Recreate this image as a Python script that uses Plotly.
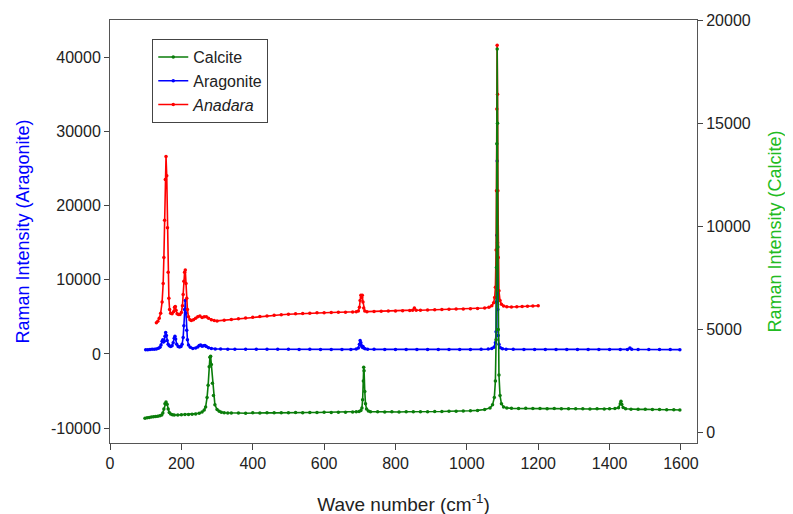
import plotly.graph_objects as go

# ---------------- data ----------------
calcite_x = [98, 104, 110, 116, 122, 128, 134, 140, 145, 148, 151, 154, 157, 160, 163, 166, 170, 175, 180, 190,
             200, 210, 220, 230, 240, 250, 258, 264, 268, 272, 275, 278, 280, 282, 284, 287, 290, 294, 300, 306,
             312, 320, 330, 340, 360, 380, 400, 420, 440, 460, 480, 500, 520, 540, 560, 580, 600, 620, 640, 660,
             680, 690, 698, 703, 706, 708, 710, 711, 712, 714, 716, 719, 724, 730, 750, 770, 790, 810, 830, 850,
             870, 890, 910, 930, 950, 970, 990, 1010, 1030, 1050, 1065, 1072, 1077, 1080, 1082, 1083, 1084, 1085,
             1086, 1087, 1088, 1090, 1093, 1097, 1103, 1112, 1125, 1145, 1165, 1185, 1205, 1225, 1245, 1265, 1285,
             1305, 1325, 1345, 1365, 1385, 1400, 1415, 1425, 1430, 1432, 1434, 1438, 1445, 1460, 1480, 1500, 1520,
             1540, 1560, 1580, 1597]
calcite_y = [700, 720, 740, 760, 770, 790, 800, 820, 860, 950, 1150, 1400, 1490, 1380, 1150, 980, 900, 870, 860, 860,
             870, 880, 880, 890, 910, 940, 1000, 1100, 1250, 1700, 2300, 3200, 3650, 3700, 3300, 2400, 1800, 1350, 1120, 1040,
             990, 965, 955, 950, 955, 945, 960, 955, 965, 960, 970, 965, 975, 970, 980, 975, 985, 980, 990, 995,
             1000, 1010, 1030, 1080, 1200, 1600, 2500, 3170, 3000, 2000, 1400, 1150, 1050, 1020, 1010, 1000, 1010, 1005, 1015, 1010,
             1020, 1020, 1030, 1025, 1040, 1035, 1050, 1060, 1080, 1120, 1200, 1350, 1700, 2500, 4500, 8000, 14000, 18600,
             15000, 9000, 5000, 2800, 1800, 1400, 1250, 1200, 1180, 1170, 1180, 1170, 1175, 1165, 1170, 1160, 1165,
             1155, 1160, 1150, 1155, 1150, 1160, 1170, 1210, 1400, 1520, 1380, 1220, 1160, 1140, 1130, 1135, 1120,
             1125, 1110, 1115, 1100]

aragonite_x = [100, 106, 112, 118, 124, 130, 136, 140, 143, 146, 148, 150, 152, 154, 156, 158, 160, 163, 166, 170,
               174, 177, 180, 182, 184, 187, 191, 195, 199, 202, 205, 207, 209, 211, 213, 215, 217, 220, 225, 232,
               240, 246, 250, 254, 258, 262, 266, 270, 276, 284, 295, 310, 330, 350, 380, 410, 440, 470, 500, 530,
               560, 590, 620, 650, 675, 690, 696, 699, 701, 703, 705, 707, 709, 711, 715, 722, 740, 770, 800, 830,
               860, 890, 920, 950, 980, 1010, 1040, 1060, 1070, 1076, 1080, 1082, 1083, 1084, 1085, 1086, 1087, 1088,
               1090, 1094, 1100, 1110, 1130, 1160, 1190, 1220, 1250, 1280, 1310, 1340, 1370, 1400, 1430, 1450, 1457,
               1462, 1480, 1510, 1540, 1570, 1597]
aragonite_y = [550, 580, 600, 620, 640, 680, 760, 900, 1200, 1700, 1900, 1600, 1700, 2400, 2900, 2500, 1800, 1300, 1100, 1000,
               1100, 1500, 2100, 2400, 2000, 1300, 1000, 950, 1000, 1300, 2200, 3800, 6000, 7200, 5500, 3200, 1900, 1200, 900, 750,
               800, 950, 1150, 1200, 1050, 1100, 1150, 1000, 850, 750, 680, 650, 640, 630, 640, 630, 620, 630, 620, 615,
               620, 610, 615, 610, 615, 650, 800, 1300, 1800, 1500, 1100, 900, 1000, 800, 700, 640, 620, 610, 615, 605,
               610, 600, 605, 600, 610, 600, 620, 650, 720, 900, 1500, 3000, 7000, 16000, 26000, 15000, 6000, 2500,
               1300, 850, 700, 640, 620, 610, 605, 600, 610, 600, 605, 600, 595, 600, 595, 610, 800,
               620, 600, 595, 600, 590, 580]

anadara_x = [130, 134, 138, 142, 146, 149, 151, 153, 155, 157, 159, 161, 163, 165, 167, 170, 174, 178, 181, 183,
             185, 188, 192, 196, 200, 203, 205, 207, 209, 211, 213, 215, 217, 220, 224, 228, 234, 240, 246, 252,
             258, 264, 270, 276, 284, 292, 300, 320, 340, 360, 380, 400, 420, 440, 460, 480, 500, 520, 540, 560,
             580, 600, 620, 640, 660, 680, 690, 696, 699, 701, 703, 705, 707, 709, 711, 714, 720, 740, 760, 780,
             800, 820, 840, 848, 853, 858, 870, 890, 910, 930, 950, 970, 990, 1010, 1030, 1050, 1062, 1070, 1075, 1078,
             1080, 1082, 1083, 1084, 1085, 1086, 1087, 1088, 1090, 1093, 1097, 1103, 1112, 1125, 1140, 1155, 1170,
             1185, 1200]
anadara_y = [4200, 4400, 4800, 5500, 7000, 9500, 13000, 18000, 23500, 26600, 24000, 17000, 11000, 7500, 6000, 5500, 5400, 5700, 6300, 6400,
             5900, 5400, 5300, 5300, 5600, 6500, 8000, 9800, 11000, 11300, 9500, 7500, 6000, 5000, 4600, 4500, 4600, 4800, 5000, 5100,
             4900, 5000, 5000, 4800, 4600, 4500, 4450, 4550, 4650, 4750, 4850, 4950, 5050, 5120, 5200, 5280, 5340, 5400, 5460, 5500,
             5540, 5560, 5590, 5610, 5630, 5650, 5680, 5800, 6300, 7200, 7900, 7600, 7900, 7000, 6200, 5800, 5700, 5720, 5750, 5780,
             5800, 5830, 5860, 5900, 6200, 5900, 5890, 5920, 5950, 5980, 6010, 6040, 6070, 6100, 6140, 6200, 6300, 6500, 6900, 7600,
             9000, 14000, 22000, 33000, 41600, 35000, 22000, 13000, 8500, 7200, 6700, 6450, 6350, 6330, 6360, 6380, 6420,
             6450, 6500]

x_ticks = [0, 200, 400, 600, 800, 1000, 1200, 1400, 1600]
x_ticktext = ["0", "200", "400", "600", "800", "1000", "1200", "1400", "1600"]
left_ticks = [-10000, 0, 10000, 20000, 30000, 40000]
left_ticktext = ["-10000", "0", "10000", "20000", "30000", "40000"]
right_ticks = [0, 5000, 10000, 15000, 20000]
right_ticktext = ["0", "5000", "10000", "15000", "20000"]

FONT = "Arial, Liberation Sans, sans-serif"
NARROW = "Liberation Sans Narrow, Arial Narrow, Liberation Sans, sans-serif"

fig = go.Figure()
fig.add_trace(go.Scatter(x=calcite_x, y=calcite_y, name="Calcite", yaxis="y2",
                         mode="lines+markers", line=dict(color="#0a7d0a", width=1.6),
                         marker=dict(color="#0a7d0a", size=3.5)))
fig.add_trace(go.Scatter(x=aragonite_x, y=aragonite_y, name="Aragonite", yaxis="y",
                         mode="lines+markers", line=dict(color="#0000ff", width=1.6),
                         marker=dict(color="#0000ff", size=3.5)))
fig.add_trace(go.Scatter(x=anadara_x, y=anadara_y, name="<i>Anadara</i>", yaxis="y",
                         mode="lines+markers", line=dict(color="#ff0000", width=1.6),
                         marker=dict(color="#ff0000", size=3.5)))

# the page body offsets the figure by 8px; margins compensate so the plot
# area spans x 110-697 and y 20-443 in the screenshot
fig.update_layout(
    width=793, height=514,
    margin=dict(l=102, r=104, t=12, b=79),
    paper_bgcolor="white", plot_bgcolor="white",
    font=dict(family=FONT, size=16, color="#222"),
    showlegend=True,
    legend=dict(x=0.072, y=0.955, xanchor="left", yanchor="top",
                bordercolor="#444", borderwidth=1, bgcolor="white",
                font=dict(size=16, family=FONT, color="#222"),
                itemwidth=30, tracegroupgap=0),
    xaxis=dict(range=[0, 1645], tickvals=x_ticks, ticktext=x_ticktext, ticks="outside", ticklen=6,
               showline=True, linecolor="#555", linewidth=1, mirror=True, automargin=False,
               showgrid=False, zeroline=False,
               tickfont=dict(family=NARROW, size=16, color="#222"),
               title=dict(text="Wave number (cm<sup>-1</sup>)", standoff=26,
                          font=dict(family=NARROW, size=19, color="#222"))),
    yaxis=dict(range=[-12000, 45000], tickvals=left_ticks, ticktext=left_ticktext, ticks="outside", ticklen=5,
               showline=True, linecolor="#555", linewidth=1, automargin=False,
               showgrid=False, zeroline=False,
               tickfont=dict(size=16, color="#222"),
               title=dict(text="Raman Intensity (Aragonite)", standoff=16,
                          font=dict(size=18, color="#0000ff"))),
    yaxis2=dict(range=[-500, 20000], tickvals=right_ticks, ticktext=right_ticktext,
                overlaying="y", side="right", automargin=False,
                ticks="outside", ticklen=5,
                showline=True, linecolor="#555", linewidth=1,
                showgrid=False, zeroline=False,
                tickfont=dict(size=16, color="#222"),
                title=dict(text="Raman Intensity (Calcite)", standoff=18,
                           font=dict(size=18, color="#22bb22"))),
)

fig.write_html("out.html")
